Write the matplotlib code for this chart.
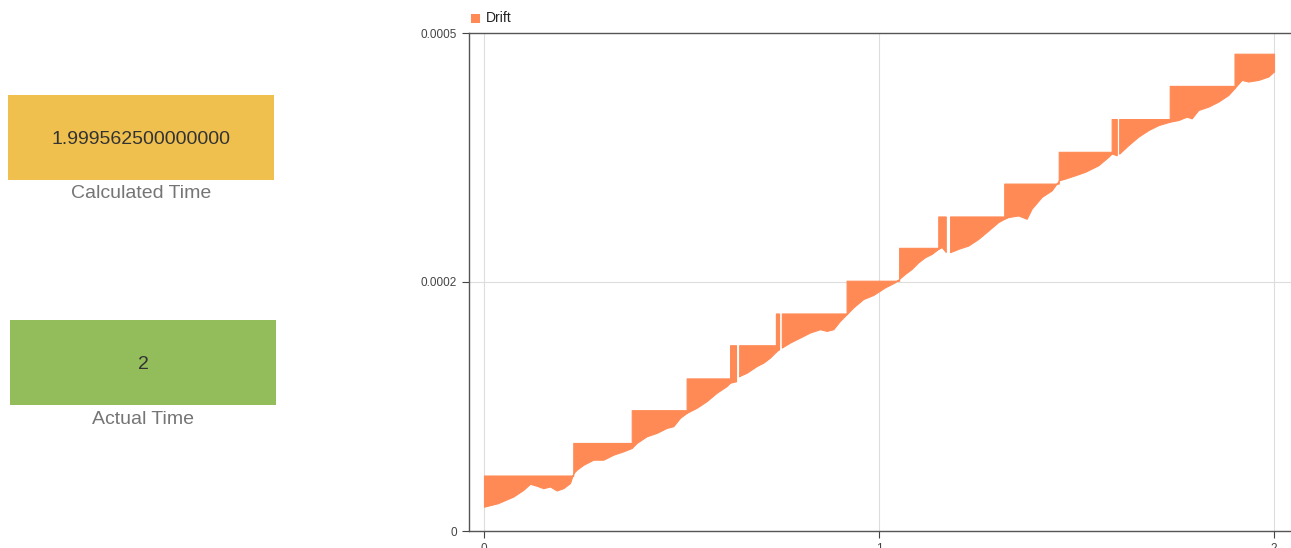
import numpy as np
import matplotlib.pyplot as plt
from matplotlib.patches import Rectangle

plt.rcParams['font.family'] = ['Liberation Sans', 'DejaVu Sans']

# summary values shown in the two boxes
calc_time = '1.999562500000000'
actual_time = '2'

# drift: flat "top" level of each step (start, end, level)
seg_start = [0.0, 0.226, 0.374, 0.513, 0.623, 0.646, 0.739, 0.754, 0.918,
             1.051, 1.150, 1.180, 1.317, 1.455, 1.589, 1.608, 1.736, 1.900]
seg_end = [0.226, 0.374, 0.513, 0.623, 0.638, 0.739, 0.747, 0.918, 1.051,
           1.150, 1.169, 1.317, 1.455, 1.589, 1.602, 1.736, 1.900, 2.0]
seg_top = [5.57e-5, 8.84e-5, 1.213e-4, 1.532e-4, 1.865e-4, 1.865e-4,
           2.184e-4, 2.184e-4, 2.513e-4, 2.843e-4, 3.158e-4, 3.158e-4,
           3.488e-4, 3.807e-4, 4.136e-4, 4.136e-4, 4.469e-4, 4.792e-4]

# drift: lower (noisy) edge
low_t = [0.0, 0.035, 0.0742, 0.0996, 0.1165, 0.1333, 0.1502, 0.1671, 0.184,
         0.2008, 0.2177, 0.2262, 0.2346, 0.2515, 0.2768, 0.3021, 0.3274,
         0.3527, 0.3738, 0.3865, 0.4118, 0.4371, 0.4624, 0.4793, 0.4962,
         0.5131, 0.5384, 0.5637, 0.589, 0.6143, 0.6228, 0.6397, 0.6464,
         0.665, 0.6903, 0.7072, 0.7241, 0.7409, 0.7536, 0.7747, 0.8, 0.8253,
         0.8506, 0.8675, 0.8844, 0.9013, 0.9181, 0.935, 0.9603, 0.9857,
         1.0152, 1.0405, 1.0506, 1.0658, 1.0827, 1.0996, 1.1165, 1.1333,
         1.1502, 1.1587, 1.1696, 1.1797, 1.2008, 1.2262, 1.2515, 1.2768,
         1.3021, 1.3173, 1.3274, 1.3527, 1.3738, 1.3865, 1.4118, 1.4371,
         1.4557, 1.4709, 1.4962, 1.5215, 1.5384, 1.5553, 1.5806, 1.589,
         1.6017, 1.6084, 1.6312, 1.6565, 1.6819, 1.7072, 1.7367, 1.7578,
         1.7789, 1.7916, 1.8084, 1.8338, 1.8591, 1.8844, 1.8996, 1.9181,
         1.935, 1.9603, 1.9857, 2.0]
low_v = [2.44e-5, 2.79e-5, 3.46e-5, 4.13e-5, 4.74e-5, 4.54e-5, 4.30e-5,
         4.47e-5, 4.07e-5, 4.30e-5, 4.81e-5, 5.81e-5, 6.15e-5, 6.65e-5,
         7.16e-5, 7.16e-5, 7.66e-5, 8.0e-5, 8.33e-5, 8.84e-5, 9.51e-5,
         9.85e-5, 1.035e-4, 1.052e-4, 1.136e-4, 1.186e-4, 1.237e-4, 1.304e-4,
         1.388e-4, 1.455e-4, 1.489e-4, 1.505e-4, 1.556e-4, 1.589e-4,
         1.656e-4, 1.690e-4, 1.741e-4, 1.808e-4, 1.841e-4, 1.892e-4,
         1.942e-4, 1.993e-4, 2.026e-4, 2.009e-4, 2.026e-4, 2.110e-4,
         2.177e-4, 2.245e-4, 2.329e-4, 2.370e-4, 2.446e-4, 2.497e-4,
         2.530e-4, 2.581e-4, 2.631e-4, 2.698e-4, 2.749e-4, 2.782e-4,
         2.833e-4, 2.850e-4, 2.799e-4, 2.799e-4, 2.833e-4, 2.866e-4,
         2.933e-4, 3.017e-4, 3.102e-4, 3.135e-4, 3.152e-4, 3.168e-4,
         3.135e-4, 3.236e-4, 3.354e-4, 3.420e-4, 3.521e-4, 3.538e-4,
         3.571e-4, 3.606e-4, 3.639e-4, 3.672e-4, 3.757e-4, 3.790e-4,
         3.773e-4, 3.790e-4, 3.874e-4, 3.959e-4, 4.025e-4, 4.075e-4,
         4.110e-4, 4.126e-4, 4.160e-4, 4.143e-4, 4.227e-4, 4.261e-4,
         4.311e-4, 4.378e-4, 4.445e-4, 4.529e-4, 4.513e-4, 4.529e-4,
         4.563e-4, 4.614e-4]

ORANGE = '#FF8A55'

fig = plt.figure(figsize=(12.91, 5.48), dpi=100)
W, H = 1291.0, 548.0


def box(x0, y0, x1, y1, color, value, label):
    fig.patches.append(Rectangle((x0 / W, 1 - y1 / H), (x1 - x0) / W,
                                 (y1 - y0) / H, transform=fig.transFigure,
                                 facecolor=color, edgecolor='none'))
    cx = (x0 + x1) / 2 / W
    fig.text(cx, 1 - ((y0 + y1) / 2 + 2) / H, value, ha='center',
             va='center', fontsize=14, color='#333333')
    fig.text(cx, 1 - (y1 + 14) / H, label, ha='center', va='center',
             fontsize=14, color='#757575')


box(8, 95, 274, 180, '#F0C04E', calc_time, 'Calculated Time')
box(10, 320, 276, 405, '#93BC5A', actual_time, 'Actual Time')

# drift chart
ax = fig.add_axes([469 / W, 1 - 531 / H, (W - 469) / W, (531 - 33) / H])
for s, e, top in zip(seg_start, seg_end, seg_top):
    xs = [s] + [t for t in low_t if s < t < e] + [e]
    lo = np.interp(xs, low_t, low_v)
    ax.fill_between(xs, lo, top, color=ORANGE, linewidth=0.8,
                    edgecolor=ORANGE)

ax.set_xlim(-15 * 2 / 790, 2 + 17 * 2 / 790)
ax.set_ylim(0, 0.0005)
ax.set_xticks([0, 1, 2])
ax.set_xticklabels(['0', '1', '2'])
ax.set_yticks([0, 0.00025, 0.0005])
ax.set_yticklabels(['0', '0.0002', '0.0005'])
ax.tick_params(labelsize=8.5, colors='#444444', length=5, width=0.8)
ax.grid(True, color='#dddddd', linewidth=0.8)
ax.set_axisbelow(True)
for side in ['left', 'bottom', 'top']:
    ax.spines[side].set_color('#555555')
    ax.spines[side].set_linewidth(1.0)
ax.spines['right'].set_visible(False)

# legend above the plot
fig.patches.append(Rectangle((471 / W, 1 - 23 / H), 9 / W, 9 / H,
                             transform=fig.transFigure, facecolor=ORANGE,
                             edgecolor='none'))
fig.text(486 / W, 1 - 18.5 / H, 'Drift', ha='left', va='center',
         fontsize=10, color='#222222')

fig.savefig('out.png', dpi=100)
